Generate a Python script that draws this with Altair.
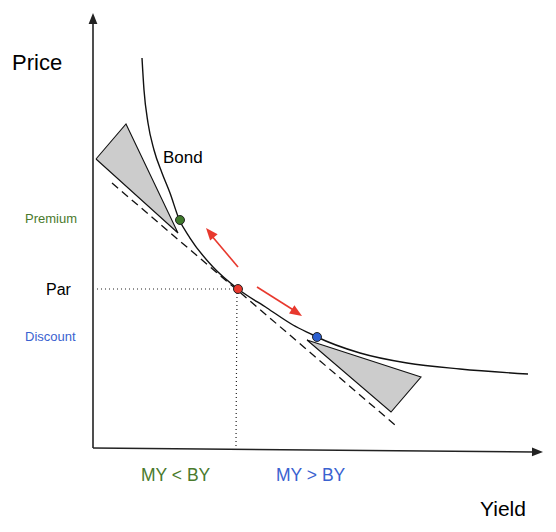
import altair as alt
import pandas as pd

# ---- data (picture pixel coordinates, y downward) ----
curve_x = [142, 144, 148, 154, 162, 170, 179, 190, 213, 238, 267, 293, 313, 317, 360, 407, 460, 528]
curve_y = [58, 90, 123, 150, 173, 193, 219, 238, 267, 289, 308, 325, 335, 337, 353, 363, 369, 374]

tangent_x = [112, 395]
tangent_y = [183, 425]

tri1_x = [96, 126, 178, 96]
tri1_y = [159, 124, 233, 159]
tri2_x = [307, 421, 391, 307]
tri2_y = [340, 377, 412, 340]

par_h_x = [97, 237]
par_h_y = [289, 289]
par_v_x = [237, 236]
par_v_y = [289, 446]

yaxis_x = [93, 93]
yaxis_y = [448, 22]
xaxis_x = [93, 534]
xaxis_y = [448, 452]

pt_x = [180, 238, 317]
pt_y = [220, 289, 337]
pt_color = ["#3f7a2b", "#e8392e", "#2b5fd0"]

arrow1_x = [238, 211]
arrow1_y = [267, 235]
arrow2_x = [257, 295]
arrow2_y = [287, 311]

head_x = [93, 543, 206, 302]
head_y = [13, 452, 228, 316]
head_angle = [0, 90.5, 320, 123]
head_color = ["#222222", "#222222", "#e8392e", "#e8392e"]
head_size = [121, 121, 150, 150]

label_text = ["Price", "Bond", "Premium", "Par", "Discount", "MY < BY", "MY > BY", "Yield"]
label_x = [12, 163, 25, 46, 25, 141, 276, 480]
label_y = [70, 163, 223, 295, 341, 481, 481, 516]
label_size = [22, 17, 13, 16, 13, 17.5, 17.5, 21]
label_color = ["#000000", "#000000", "#4a7a2c", "#000000", "#3a62d0", "#4a7a2c", "#3a62d0", "#000000"]

# ---- scales: picture pixel space ----
XS = alt.Scale(domain=[8, 548], nice=False, zero=False)
YS = alt.Scale(domain=[8, 524], nice=False, zero=False, reverse=True)


def enc_xy():
    return dict(
        x=alt.X("x:Q", scale=XS, axis=None),
        y=alt.Y("y:Q", scale=YS, axis=None),
    )


def poly(xs, ys):
    return pd.DataFrame({"x": xs, "y": ys, "i": list(range(len(xs)))})


def line_layer(xs, ys, **mk):
    return alt.Chart(poly(xs, ys)).mark_line(**mk).encode(order="i:Q", **enc_xy())


layers = []

# triangles (filled polygons)
for tx, ty in [(tri1_x, tri1_y), (tri2_x, tri2_y)]:
    layers.append(line_layer(tx, ty, fill="#cccccc", stroke="#111111", strokeWidth=1.1))

# axes
layers.append(line_layer(yaxis_x, yaxis_y, color="#222222", strokeWidth=1.6))
layers.append(line_layer(xaxis_x, xaxis_y, color="#222222", strokeWidth=1.6))

# dotted par guides
layers.append(line_layer(par_h_x, par_h_y, color="#222222", strokeWidth=1.2, strokeDash=[1, 3]))
layers.append(line_layer(par_v_x, par_v_y, color="#222222", strokeWidth=1.2, strokeDash=[1, 3]))

# dashed tangent
layers.append(line_layer(tangent_x, tangent_y, color="#111111", strokeWidth=1.3, strokeDash=[8, 5]))

# bond curve
layers.append(line_layer(curve_x, curve_y, color="#111111", strokeWidth=1.4, interpolate="monotone"))

# red arrows shafts
layers.append(line_layer(arrow1_x, arrow1_y, color="#e8392e", strokeWidth=1.6))
layers.append(line_layer(arrow2_x, arrow2_y, color="#e8392e", strokeWidth=1.6))

# arrowheads
heads = pd.DataFrame({"x": head_x, "y": head_y, "a": head_angle, "c": head_color, "s": head_size})
layers.append(
    alt.Chart(heads)
    .mark_point(shape="M0,0L-0.8,2L0.8,2Z", filled=True, opacity=1, strokeWidth=0)
    .encode(
        angle=alt.Angle("a:Q", scale=None),
        color=alt.Color("c:N", scale=None),
        size=alt.Size("s:Q", scale=None),
        **enc_xy(),
    )
)

# points
pts = pd.DataFrame({"x": pt_x, "y": pt_y, "c": pt_color})
layers.append(
    alt.Chart(pts)
    .mark_circle(size=80, opacity=1, stroke="#222222", strokeWidth=1)
    .encode(color=alt.Color("c:N", scale=None), **enc_xy())
)

# labels
labels = pd.DataFrame(
    {"x": label_x, "y": label_y, "t": label_text, "s": label_size, "c": label_color}
)
layers.append(
    alt.Chart(labels)
    .mark_text(align="left", baseline="alphabetic", font="Liberation Sans")
    .encode(
        text="t:N",
        size=alt.Size("s:Q", scale=None),
        color=alt.Color("c:N", scale=None),
        **enc_xy(),
    )
)

chart = (
    alt.layer(*layers)
    .properties(width=540, height=516, padding=0, background="white")
    .configure_view(strokeWidth=0)
)

chart.save("out.html", embed_options={"renderer": "svg", "actions": False})
